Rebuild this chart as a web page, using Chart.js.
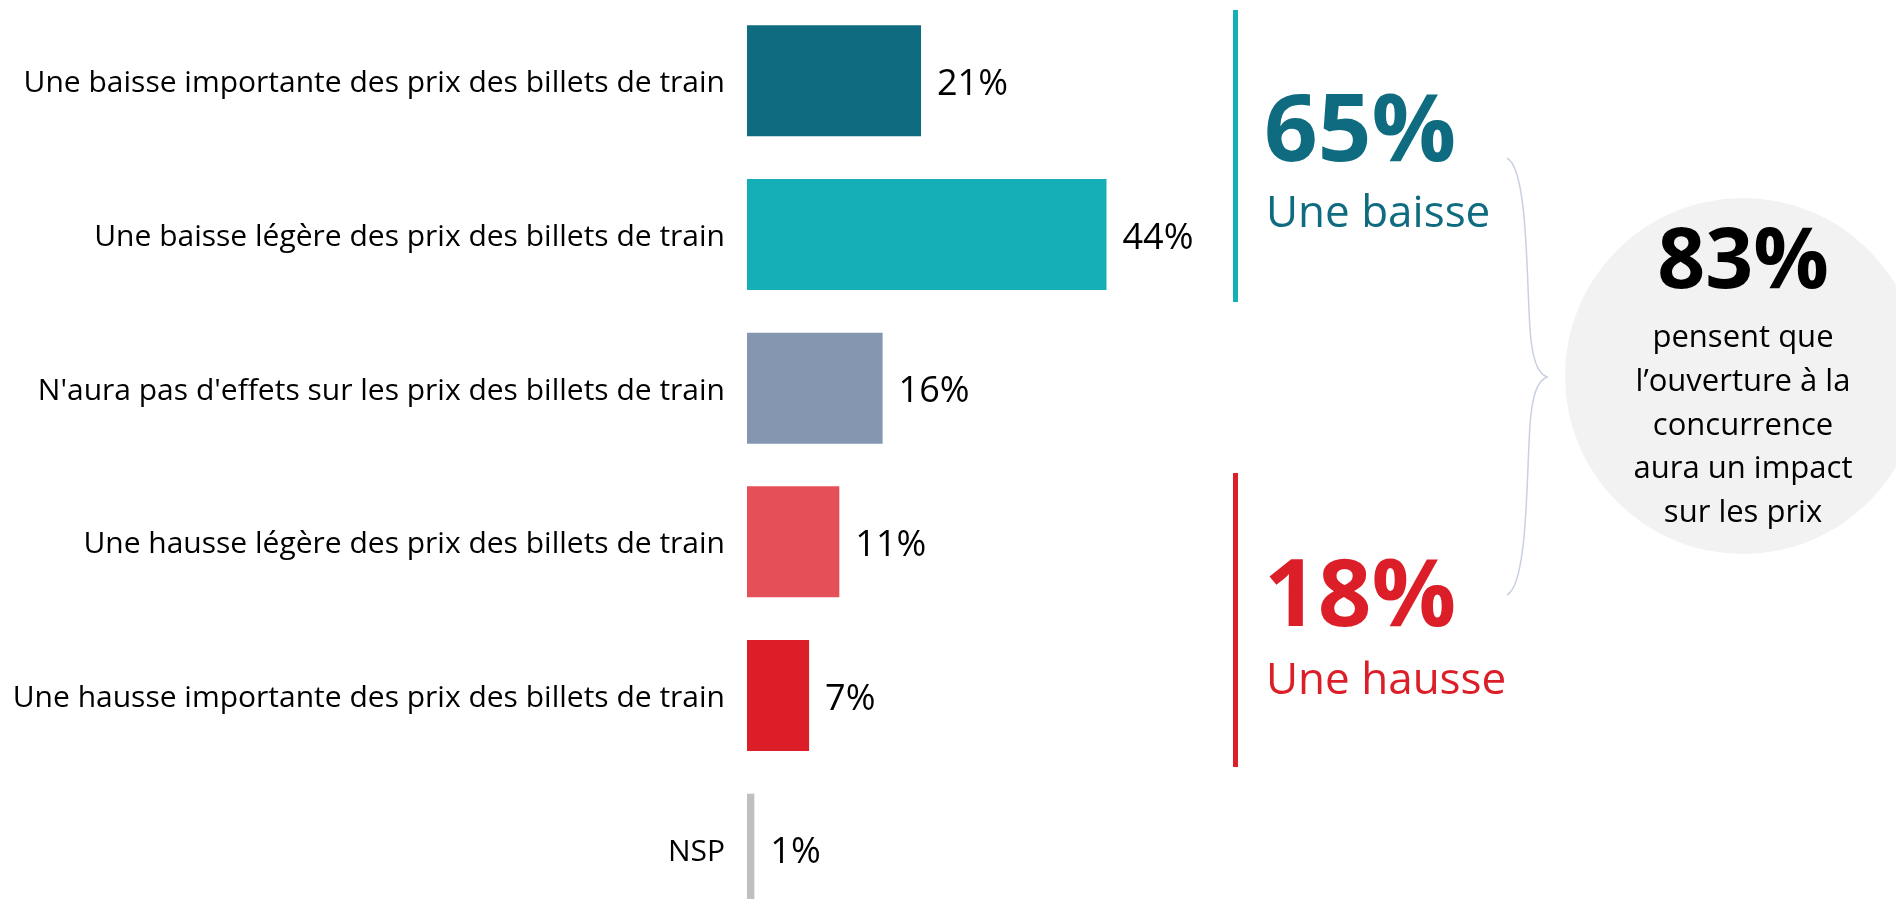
<!DOCTYPE html>
<html>
<head>
<meta charset="utf-8">
<script src="https://cdn.jsdelivr.net/npm/chart.js@4.4.1/dist/chart.umd.min.js"></script>
<style>
	html, body { margin: 0; padding: 0; overflow: hidden; background: #fff; }
	#wrap { width: 1896px; height: 899px; overflow: hidden; }
</style>
</head>
<body>
<div id="wrap">
	<canvas id="prixChart" width="1896" height="930"></canvas>
</div>
<script>
const categories = [
	"Une baisse importante des prix des billets de train",
	"Une baisse légère des prix des billets de train",
	"N'aura pas d'effets sur les prix des billets de train",
	"Une hausse légère des prix des billets de train",
	"Une hausse importante des prix des billets de train",
	"NSP"
];
// longueurs lues sur les barres (valeurs non arrondies)
const values = [21.3, 44.0, 16.6, 11.3, 7.6, 0.9];
// étiquettes affichées (arrondies)
const valueTexts = ["21%", "44%", "16%", "11%", "7%", "1%"];
const barColors = ['#0F6C80', '#14AFB7', '#8597B0', '#E55058', '#DC1E28', '#BFBFBF'];

// encadrés de droite
const groupValues = [65, 18];
const groupLabels = ["Une baisse", "Une hausse"];
const groupColors = ['#0F6C80', '#DC1E28'];
const groupLineColors = ['#14AFB7', '#DC1E28'];
const totalValue = 83;
const totalLines = ["pensent que", "l\u2019ouverture à la", "concurrence", "aura un impact", "sur les prix"];

const FONT = "'Open Sans', 'Segoe UI', sans-serif";

// étiquettes de valeur à droite des barres
const valueLabels = {
	id: 'valueLabels',
	afterDatasetsDraw(chart) {
		const ctx = chart.ctx;
		const meta = chart.getDatasetMeta(0);
		ctx.save();
		ctx.font = "36px " + FONT;
		ctx.fillStyle = '#000';
		ctx.textAlign = 'left';
		ctx.textBaseline = 'middle';
		meta.data.forEach((bar, i) => {
			ctx.fillText(valueTexts[i], bar.x + 16, bar.y + 4);
		});
		ctx.restore();
	}
};

// lignes, chiffres clés, accolade et cercle
const sideNotes = {
	id: 'sideNotes',
	afterDraw(chart) {
		const ctx = chart.ctx;
		ctx.save();

		// traits verticaux
		ctx.fillStyle = groupLineColors[0];
		ctx.fillRect(1233, 10, 5, 292);
		ctx.fillStyle = groupLineColors[1];
		ctx.fillRect(1233, 473, 5, 294);

		// 65% / 18%
		const ys = [[161, 227], [626, 694]];
		ctx.textAlign = 'left';
		ctx.textBaseline = 'alphabetic';
		for (let i = 0; i < groupValues.length; i++) {
			ctx.fillStyle = groupColors[i];
			ctx.font = "bold 94px " + FONT;
			ctx.fillText(groupValues[i] + "%", 1264, ys[i][0]);
			ctx.font = "44px " + FONT;
			ctx.fillText(groupLabels[i], 1266, ys[i][1]);
		}

		// accolade
		ctx.strokeStyle = '#C9D1E1';
		ctx.lineWidth = 1.5;
		ctx.beginPath();
		ctx.moveTo(1507, 158);
		ctx.bezierCurveTo(1530, 170, 1526, 300, 1531, 340);
		ctx.bezierCurveTo(1534, 366, 1540, 374, 1547, 377);
		ctx.bezierCurveTo(1540, 380, 1534, 388, 1531, 414);
		ctx.bezierCurveTo(1526, 454, 1530, 583, 1507, 595);
		ctx.stroke();

		// cercle
		ctx.fillStyle = '#F2F2F2';
		ctx.beginPath();
		ctx.arc(1743, 376, 178, 0, Math.PI * 2);
		ctx.fill();

		ctx.fillStyle = '#000';
		ctx.textAlign = 'center';
		ctx.font = "bold 84px " + FONT;
		ctx.fillText(totalValue + "%", 1743, 288);
		ctx.font = "31px " + FONT;
		totalLines.forEach((line, i) => {
			ctx.fillText(line, 1743, 347 + i * 43.75);
		});

		ctx.restore();
	}
};

new Chart(document.querySelector("#prixChart"), {
	type: 'bar',
	data: {
		labels: categories,
		datasets: [{
			data: values,
			backgroundColor: barColors,
			borderWidth: 0,
			barPercentage: 0.722,
			categoryPercentage: 1
		}]
	},
	options: {
		indexAxis: 'y',
		responsive: false,
		animation: false,
		events: [],
		layout: {
			padding: { top: 4, bottom: 4, right: 332, left: 0 }
		},
		plugins: {
			legend: { display: false },
			tooltip: { enabled: false }
		},
		scales: {
			x: {
				display: false,
				min: 0,
				max: 100
			},
			y: {
				grid: { display: false, drawTicks: false },
				border: { display: false },
				ticks: {
					color: '#000',
					padding: 22,
					labelOffset: 3,
					font: { family: FONT, size: 30 }
				},
				afterFit(scale) {
					scale.width = 747;
					scale.paddingTop = 0;
					scale.paddingBottom = 0;
				}
			}
		}
	},
	plugins: [valueLabels, sideNotes]
});
</script>
</body>
</html>
